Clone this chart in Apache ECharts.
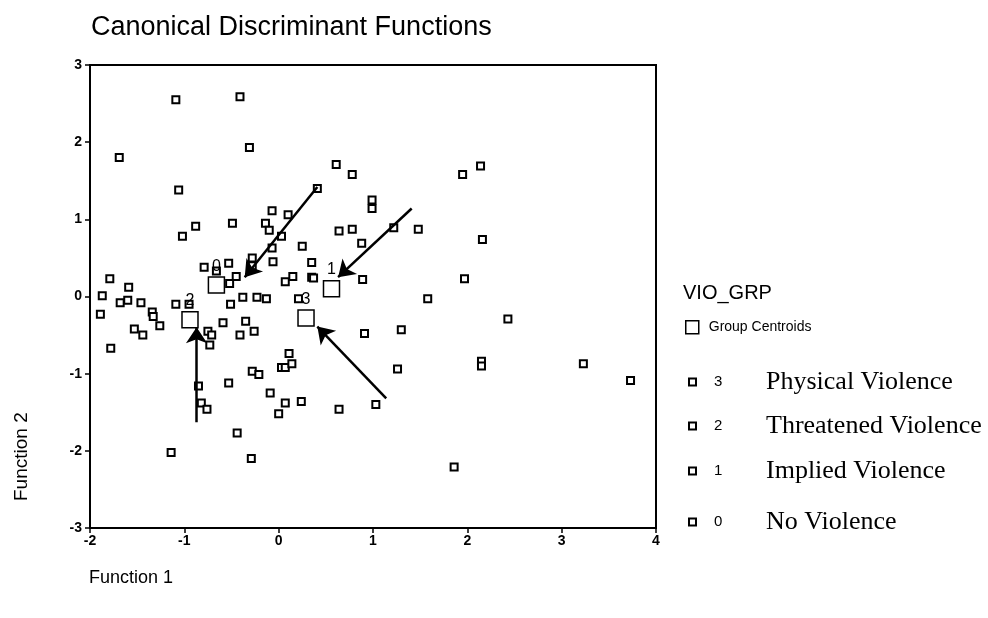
<!DOCTYPE html>
<html>
<head>
<meta charset="utf-8">
<script src="https://cdn.jsdelivr.net/npm/echarts@6/dist/echarts.min.js"></script>
<style>html,body{margin:0;padding:0;background:#fff}#c{width:988px;height:618px}</style>
</head>
<body>
<div id="c"></div>
<script>
// Case scores [Function 1, Function 2]
const casePoints = [
  [-1.09,2.55],[-0.41,2.59],[-0.31,1.93],[-1.69,1.80],[-1.06,1.38],[-0.07,1.11],
  [0.61,1.71],[0.78,1.58],[1.95,1.58],[2.14,1.69],[0.41,1.40],[0.99,1.25],[0.99,1.14],
  [0.10,1.06],[-0.49,0.95],[-0.88,0.91],[-1.02,0.78],[-0.14,0.95],[-0.10,0.86],[0.03,0.78],
  [-0.07,0.63],[-0.06,0.45],[-0.28,0.50],[-0.28,0.40],[-0.53,0.43],[-0.66,0.33],[-0.79,0.38],
  [-0.45,0.26],[-0.52,0.17],[-1.79,0.23],[-1.59,0.12],[-1.87,0.01],[-1.68,-0.08],[-1.60,-0.05],
  [-1.46,-0.08],[-1.89,-0.23],[-1.34,-0.20],[-1.33,-0.26],[-1.26,-0.38],[-1.53,-0.42],[-1.44,-0.50],
  [-1.78,-0.67],[-1.09,-0.10],[-0.95,-0.10],[-0.51,-0.10],[-0.38,-0.01],[-0.23,-0.01],[-0.13,-0.03],
  [-0.59,-0.34],[-0.35,-0.32],[-0.41,-0.50],[-0.26,-0.45],[-0.75,-0.45],[-0.71,-0.50],[-0.73,-0.63],
  [1.22,0.89],[1.48,0.87],[0.64,0.85],[0.78,0.87],[0.88,0.69],[0.25,0.65],[0.35,0.44],
  [0.35,0.25],[0.37,0.24],[0.07,0.19],[0.15,0.26],[0.89,0.22],[1.97,0.23],[1.58,-0.03],
  [0.21,-0.03],[0.91,-0.48],[1.30,-0.43],[0.11,-0.74],[2.16,0.74],[2.43,-0.29],
  [-0.85,-1.16],[-0.82,-1.38],[-0.76,-1.46],[-0.53,-1.12],[-0.28,-0.97],[-0.21,-1.01],
  [-0.09,-1.25],[0.03,-0.92],[0.00,-1.52],[-0.44,-1.77],[-1.14,-2.02],[-0.29,-2.10],
  [0.07,-0.92],[0.14,-0.87],[1.26,-0.94],[0.07,-1.38],[0.24,-1.36],[0.64,-1.46],[1.03,-1.40],
  [1.86,-2.21],[2.15,-0.84],[2.15,-0.90],[3.23,-0.87],[3.73,-1.09]
];
// Group centroids
const centroidNames = ['0','1','2','3'];
const centroidPoints = [[-0.66,0.15],[0.56,0.10],[-0.94,-0.30],[0.29,-0.28]];
// Annotation arrows [from, to]
const arrows = [
  [[0.41,1.42],[-0.36,0.25]],
  [[1.41,1.14],[0.63,0.25]],
  [[1.14,-1.32],[0.41,-0.39]],
  [[-0.87,-1.63],[-0.87,-0.40]]
];
// Legend groups
const groupCodes = ['3','2','1','0'];
const groupLabels = ['Physical Violence','Threatened Violence','Implied Violence','No Violence'];
const xTicks = {min:-2, max:4, interval:1};
const yTicks = {min:-3, max:3, interval:1};

const SANS = '"Liberation Sans", Arial, sans-serif';
const SERIF = '"Liberation Serif", "Times New Roman", serif';
const legendTops = [364, 408, 453, 504];

const chart = echarts.init(document.getElementById('c'), null, {renderer:'canvas'});
const legends = [{
  data:[{name:'Group Centroids', icon:'rect', itemStyle:{color:'#fff', borderColor:'#000', borderWidth:1.5, opacity:1}}],
  left:680, top:315, itemWidth:13, itemHeight:13, itemGap:0, selectedMode:false,
  textStyle:{fontFamily:SANS, fontSize:14, color:'#000', padding:[0,0,0,5]}
}];
groupCodes.forEach((c,i)=>{
  legends.push({
    data:[{name:c, icon:'rect', itemStyle:{color:'#fff', borderColor:'#000', borderWidth:2, opacity:1}}],
    left:683, top:legendTops[i], itemWidth:7, itemHeight:7, selectedMode:false,
    formatter: n => '{n|' + n + '}{t|' + groupLabels[groupCodes.indexOf(n)] + '}',
    textStyle:{rich:{
      n:{fontFamily:SANS, fontSize:15, color:'#000', width:52, padding:[0,0,0,13]},
      t:{fontFamily:SERIF, fontSize:26, color:'#000'}
    }}
  });
});

const series = [
  {
    name:'cases', type:'scatter', data:casePoints, symbol:'rect', symbolSize:7,
    itemStyle:{color:'#fff', borderColor:'#000', borderWidth:2, opacity:1}, z:3
  },
  {
    name:'Group Centroids', type:'scatter', symbol:'rect', symbolSize:16,
    data: centroidPoints.map((p,i)=>({name:centroidNames[i], value:p})),
    itemStyle:{color:'#fff', borderColor:'#000', borderWidth:1.5, opacity:1}, z:4,
    label:{show:true, position:'top', distance:2, formatter:'{b}', fontFamily:SANS, fontSize:16, color:'#000', opacity:1}
  },
  {
    name:'arrows', type:'lines', coordinateSystem:'cartesian2d', z:5,
    symbol:['none','arrow'], symbolSize:16,
    lineStyle:{color:'#000', width:2.5, opacity:1},
    data: arrows.map(a=>({coords:a}))
  }
];
groupCodes.forEach(c=>{
  series.push({name:c, type:'scatter', data:[], symbol:'rect',
    itemStyle:{color:'#fff', borderColor:'#000', borderWidth:2, opacity:1}});
});

chart.setOption({
  animation:false,
  backgroundColor:'#fff',
  title:[
    {text:'Canonical Discriminant Functions', left:86, top:9,
     textStyle:{fontFamily:SANS, fontSize:27, fontWeight:'normal', color:'#000'}},
    {text:'VIO_GRP', left:678, top:278,
     textStyle:{fontFamily:SANS, fontSize:20, fontWeight:'normal', color:'#000'}}
  ],
  legend: legends,
  grid:{left:90, right:332, top:65, bottom:90, show:true, borderColor:'#000', borderWidth:2, backgroundColor:'transparent'},
  xAxis:{type:'value', min:xTicks.min, max:xTicks.max, interval:xTicks.interval,
    axisLine:{show:true, onZero:false, lineStyle:{color:'#000', width:2}},
    axisTick:{show:true, length:5, lineStyle:{color:'#000', width:1.5}},
    splitLine:{show:false},
    axisLabel:{fontFamily:SANS, fontSize:14, fontWeight:'bold', color:'#000', margin:6}},
  yAxis:{type:'value', min:yTicks.min, max:yTicks.max, interval:yTicks.interval,
    axisLine:{show:true, onZero:false, lineStyle:{color:'#000', width:2}},
    axisTick:{show:true, length:5, lineStyle:{color:'#000', width:1.5}},
    splitLine:{show:false},
    axisLabel:{fontFamily:SANS, fontSize:14, fontWeight:'bold', color:'#000', margin:8}},
  graphic:[
    {type:'text', left:89, top:569, style:{text:'Function 1', fontFamily:SANS, fontSize:18, fill:'#000'}},
    {type:'text', x:12, y:501, rotation:Math.PI/2, style:{text:'Function 2', fontFamily:SANS, fontSize:19, fill:'#000'}}
  ],
  series: series
});
</script>
</body>
</html>
